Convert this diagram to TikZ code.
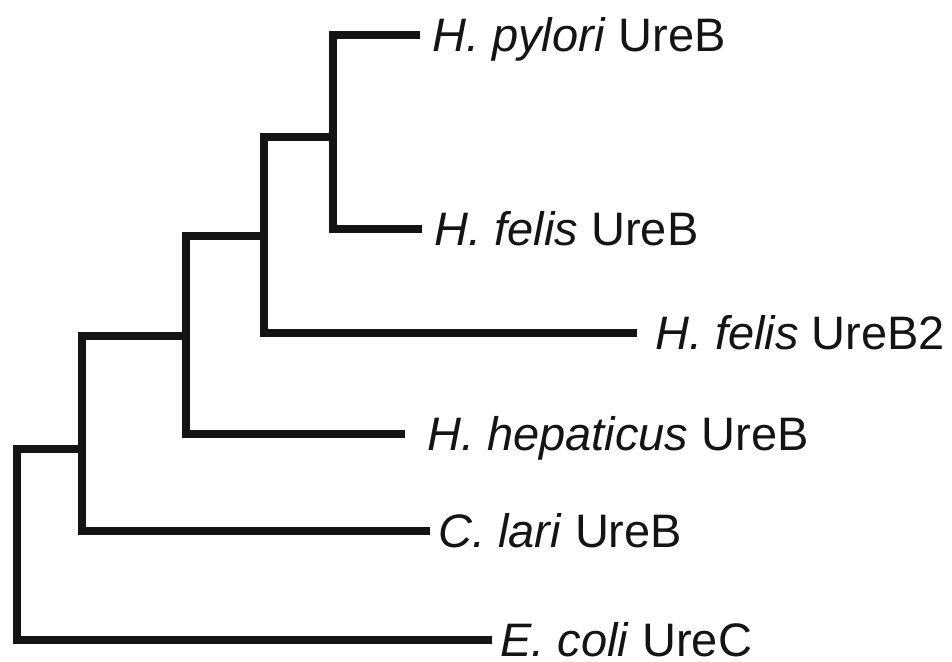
\documentclass[tikz,border=0pt]{standalone}
\usepackage{fontspec}
\setmainfont{Liberation Sans}
\usetikzlibrary{calc}
\begin{document}
\begin{tikzpicture}[x=1pt,y=-1pt,
  branch/.style={line width=8pt, line cap=butt, line join=miter, black!92},
  lab/.style={anchor=base west, inner sep=0pt, text depth=0pt, font=\fontsize{47}{52}\selectfont, text=black!92}]
\useasboundingbox (0,0) rectangle (952,661);
% internal nodes
\coordinate (root) at (17,545);
\coordinate (A) at (81.5,449);
\coordinate (B) at (186,336);
\coordinate (C) at (264,236);
\coordinate (D) at (333,137);
% leaf ends
\coordinate (pyl) at (420,35.5);
\coordinate (fel) at (421.5,229);
\coordinate (fel2) at (637,332.5);
\coordinate (hep) at (405,434);
\coordinate (lar) at (430,531);
\coordinate (eco) at (492,640);
% branches
\draw[branch] (root) |- (A);
\draw[branch] (root) |- (eco);
\draw[branch] (A) |- (B);
\draw[branch] (A) |- (lar);
\draw[branch] (B) |- (C);
\draw[branch] (B) |- (hep);
\draw[branch] (C) |- (D);
\draw[branch] (C) |- (fel2);
\draw[branch] (D) |- (pyl);
\draw[branch] (D) |- (fel);
% labels
\node[lab] (tpyl) at ($(pyl)+(12,16.5)$) {\textit{H. pylori} UreB};
\node[lab] (tfel) at ($(fel)+(13,16.5)$) {\textit{H. felis} UreB};
\node[lab] (tfel2) at ($(fel2)+(18,16.5)$) {\textit{H. felis} UreB2};
\node[lab] (thep) at ($(hep)+(22,16.5)$) {\textit{H. hepaticus} UreB};
\node[lab] (tlar) at ($(lar)+(8,16.5)$) {\textit{C. lari} UreB};
\node[lab] (teco) at ($(eco)+(8,16.5)$) {\textit{E. coli} UreC};
\end{tikzpicture}
\end{document}
